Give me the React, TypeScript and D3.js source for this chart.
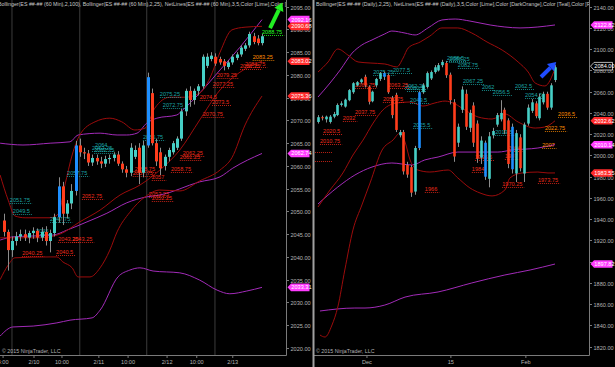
import { useEffect, useRef } from "react";
import * as d3 from "d3";

const W = 615;
const H = 367;
const FONT = "'Liberation Sans', Arial, sans-serif";

// ---- 60 min panel (left) ----
// [open, high, low, close]
const hourBars = [
  [2048, 2049.5, 2044.5, 2045.5],
  [2045.5, 2046, 2037, 2041.5],
  [2041.5, 2044.5, 2040, 2043.5],
  [2043.5, 2045.5, 2042.5, 2044.5],
  [2044.5, 2046, 2043.5, 2045],
  [2045, 2046, 2043.5, 2044.25],
  [2044.25, 2045.75, 2043, 2045.25],
  [2045.25, 2046.5, 2044, 2045.75],
  [2045.75, 2046.25, 2043.25, 2044.25],
  [2044.25, 2046.5, 2043.5, 2045.5],
  [2045.5, 2046.75, 2042.5, 2043.5],
  [2043.5, 2046, 2041, 2045.25],
  [2045.25, 2049.5, 2044.5, 2048.75],
  [2048.75, 2057.5, 2047.5, 2055.5],
  [2055.5, 2056.5, 2047, 2049.5],
  [2049.5, 2052.5, 2048.5, 2051.75],
  [2051.75, 2056, 2050.5, 2054.5],
  [2054.5, 2065.5, 2053.5, 2064.5],
  [2064.5, 2066, 2062, 2063],
  [2063, 2064, 2061.5, 2062.75],
  [2062.75, 2063.5, 2060, 2060.75],
  [2060.75, 2062.5, 2060, 2061.75],
  [2061.75, 2062.5, 2060.25, 2061],
  [2061, 2062, 2059.5, 2060.5],
  [2060.5, 2062.25, 2059.75, 2061.5],
  [2061.5, 2062.5, 2060.5, 2061.75],
  [2061.75, 2063, 2061, 2062.5],
  [2062.5, 2063.25, 2060, 2060.5],
  [2060.5, 2061, 2058.5, 2059.25],
  [2059.25, 2060, 2057.5, 2058.5],
  [2058.5, 2065, 2057.75, 2064],
  [2062, 2064.5, 2061.5, 2063.5],
  [2064, 2065, 2056, 2058.5],
  [2058.5, 2065.5, 2057.5, 2064.5],
  [2064.5, 2080.5, 2064, 2079.5],
  [2076, 2077, 2064.5, 2065],
  [2065, 2066, 2060, 2061],
  [2063, 2064, 2058, 2059.5],
  [2060, 2062.5, 2059, 2062],
  [2062, 2064, 2061, 2063.5],
  [2063, 2065.5, 2062.5, 2065],
  [2064, 2066.5, 2063.5, 2066],
  [2066, 2072.5, 2065.5, 2072],
  [2072, 2077, 2071, 2076.5],
  [2076.5, 2077.5, 2073, 2074.5],
  [2074.5, 2077, 2073.5, 2076.5],
  [2076.5, 2078, 2075.5, 2077.5],
  [2077.5, 2084.5, 2077, 2084],
  [2082, 2084.75, 2081.5, 2084],
  [2083.5, 2085, 2083, 2084.25],
  [2084, 2084.75, 2082, 2082.5],
  [2083.5, 2084, 2082.25, 2082.75],
  [2083, 2083.5, 2081, 2082],
  [2081.75, 2083.25, 2081.25, 2082.75],
  [2082.75, 2084.5, 2082.25, 2084],
  [2083.75, 2085, 2083.25, 2084.5],
  [2084.5, 2086.5, 2084, 2086],
  [2085.75, 2087, 2085.25, 2086.5],
  [2086.5, 2089.5, 2086, 2089],
  [2088.5, 2089.25, 2086.75, 2087.25],
  [2088, 2088.75, 2086.5, 2087],
  [2087, 2089, 2086.5, 2088.5],
];
const hourBlue = [13, 17, 34];

// bands: [bar index, price]
const hourUpper100 = [
  [-0.8, 2065], [4.6, 2064.6], [11, 2065], [15.7, 2065.3], [17.6, 2066.8], [22.8, 2067.2],
  [26.8, 2066.8], [29.1, 2066.8], [31.5, 2067.2], [33.8, 2069.4], [36.2, 2070.5], [40.9, 2071.2],
  [42.3, 2072.3], [46.3, 2076], [51.1, 2081.1], [55.8, 2086.1], [61, 2092.16],
];
const hourMid100 = [
  [-0.8, 2043.7], [2.2, 2044.4], [11.7, 2044.8], [15, 2045.9], [19.7, 2047.7], [24.4, 2049.6],
  [29.1, 2051.9], [33.8, 2053.2], [36.9, 2053.6], [46.3, 2056.5], [51.1, 2057.6], [54.1, 2059.5],
  [61, 2062.74],
];
const hourLower100 = [
  [-0.8, 2022.6], [2.2, 2024.6], [7, 2024.8], [12.6, 2025.5], [15.7, 2026.1], [20.9, 2026.6],
  [22.8, 2028.3], [27, 2035.6], [29.8, 2037.1], [32.2, 2037.6], [35.3, 2036.9], [41.6, 2036.5],
  [46.3, 2034.9], [50.4, 2032.7], [53.4, 2031.9], [57.4, 2032.5], [61, 2033.31],
];
const hourUpper25 = [
  [-0.8, 2058], [1.1, 2052.5], [2.7, 2049], [5.1, 2048.6], [11, 2048.6], [12.9, 2049.4],
  [14.5, 2055.8], [16.2, 2062.4], [18, 2066.8], [21.6, 2069.7], [25.1, 2070.5], [27.9, 2069.7],
  [31, 2067.9], [33.4, 2068.3], [35.7, 2072.7], [39.3, 2075.1], [42.8, 2075.1], [46.3, 2076],
  [48.7, 2079.3], [51.1, 2085], [53.9, 2089.9], [57, 2090.5], [61, 2090.68],
];
const hourMid25 = [
  [-0.8, 2044.2], [8.6, 2044.2], [13.3, 2045], [18, 2047.7], [22.8, 2050.3], [27.5, 2053.6],
  [32.2, 2055.8], [36.9, 2059.1], [41.6, 2063.5], [46.3, 2070.1], [51.1, 2076.7], [55.8, 2080.6],
  [61, 2083.02],
];
const hourLower25 = [
  [-0.8, 2035], [1.1, 2038.2], [2.7, 2039.8], [11, 2040], [12.6, 2040], [14, 2038.9],
  [16.2, 2037.6], [17.6, 2035.6], [20.4, 2035.6], [22.8, 2037.6], [25.1, 2041.5], [26.8, 2045.5],
  [29.8, 2049.8], [33.4, 2053.2], [36.9, 2054.7], [41.6, 2054.5], [46.3, 2056.7], [51.1, 2059.1],
  [53.9, 2061.8], [57, 2069], [61, 2075.36],
];

// net lines: [bar index, price, colour]
const hourNetLines = [
  [61, 2088.75, "lime"], [58.8, 2083.25, "orange"], [57, 2081.75, "red"], [55.8, 2081.25, "red"],
  [50.3, 2079.25, "red"], [49.4, 2077.25, "red"], [36.9, 2075.25, "teal"], [46.3, 2074.5, "red"],
  [49.2, 2073.5, "red"], [37.6, 2072.75, "teal"], [47, 2070.75, "red"], [32.9, 2065.75, "teal"],
  [21.6, 2064, "teal"], [20.9, 2063.25, "teal"], [21.4, 2062.75, "teal"], [42.3, 2062.25, "red"],
  [41.6, 2061.25, "red"], [31, 2058.75, "red"], [30.5, 2057.75, "red"], [39.5, 2058.75, "red"],
  [35, 2057, "red"], [15, 2057.75, "teal"], [18.5, 2052.75, "red"], [34.3, 2053.25, "red"],
  [35, 2052.25, "red"], [1.5, 2051.75, "teal"], [2.2, 2049.5, "teal"], [11, 2047.75, "teal"],
  [7.7, 2045, "teal"], [12.9, 2043.25, "red"], [16.2, 2043.25, "red"], [4.4, 2040.25, "red"],
  [12.4, 2040.5, "red"],
];
const hourPriceTicks = [2020, 2025, 2030, 2035, 2040, 2045, 2050, 2055, 2060, 2065, 2070, 2075, 2080, 2085, 2090, 2095];
const hourMarkers = [
  [2092.16, "magenta"], [2090.68, "red"], [2083.02, "red"], [2075.36, "red"], [2062.74, "magenta"], [2033.31, "magenta"],
];
const hourTimeLabels = [
  [-0.1, "4:00"], [7.2, "2/10"], [13.8, "10:00"], [22.5, "2/11"], [29.4, "10:00"], [38.6, "2/12"], [45.6, "10:00"], [54.1, "2/13"],
];
const hourSessionBreaks = [2, 18, 33.8, 49.9];
const hourArrow = [[62.9, 2090.3], [65.8, 2095.9]];
const hourTitle =
  "Bollinger(ES ##-## (60 Min),2,100), Bollinger(ES ##-## (60 Min),2,25), NetLines(ES ##-## (60 Min),3,5,Color [Lime],Color [DarkOrange],Color [Teal],Color [Red])";

// ---- Daily panel (right) ----
const dayBars = [
  [2031.5, 2038, 2030, 2036],
  [2036, 2037.5, 2033, 2035],
  [2034, 2037.5, 2031, 2036.5],
  [2031.5, 2038, 2030, 2036.5],
  [2036.5, 2041, 2035, 2039],
  [2038, 2049, 2037, 2047.5],
  [2047.5, 2051, 2046, 2049],
  [2046, 2053.5, 2045, 2052.5],
  [2052, 2062.5, 2051, 2061.5],
  [2059.5, 2069, 2058, 2068],
  [2066, 2070, 2065, 2069],
  [2069, 2072.5, 2067.5, 2071.5],
  [2074, 2076, 2064, 2066],
  [2064.5, 2066, 2048, 2050.5],
  [2051, 2061, 2050, 2060],
  [2066, 2073, 2064, 2072],
  [2072, 2078.5, 2070, 2077.5],
  [2074, 2079, 2071, 2077.5],
  [2075.5, 2077, 2058, 2059.5],
  [2054, 2056, 2035, 2038],
  [2057, 2059, 2022, 2024],
  [2019, 2024, 2017, 2022],
  [2022, 2024, 1982, 1985],
  [1991, 1994, 1979, 1982],
  [1989, 1991, 1961, 1965],
  [1966, 2009, 1963, 2007],
  [2007, 2061, 2005, 2059.5],
  [2059.5, 2068, 2058, 2066],
  [2064.5, 2079, 2063, 2077.5],
  [2072.5, 2080, 2071, 2078.5],
  [2078.5, 2085, 2077, 2083],
  [2080, 2087, 2079, 2085],
  [2085, 2090, 2083, 2088],
  [2087, 2089, 2073, 2075.5],
  [2076, 2078, 2048, 2052],
  [2050, 2053, 1994, 1999],
  [2012, 2030, 2008, 2027],
  [2043, 2065, 2040, 2062],
  [2058, 2062, 2024, 2027],
  [2026, 2043, 2022, 2040],
  [2047, 2050, 2008, 2012],
  [2030, 2033, 1993, 1997],
  [1998, 2018, 1992, 2014],
  [2012, 2014, 1977, 1980],
  [1978, 2022, 1970, 2018],
  [2019, 2026, 2016, 2023],
  [2029, 2040, 2027, 2038],
  [2034, 2052, 2032, 2040],
  [2043, 2045, 2020, 2024],
  [2033, 2035, 1988, 1992],
  [2027, 2030, 1983, 1987],
  [1983, 2024, 1975, 2021],
  [2017, 2020, 1985, 1988],
  [1983, 2031, 1975, 2029],
  [2030, 2048, 2028, 2045],
  [2042, 2053, 2040, 2050],
  [2049, 2051, 2035, 2037],
  [2035, 2058, 2033, 2055],
  [2050, 2060, 2048, 2058],
  [2058, 2060, 2043, 2045],
  [2045, 2068, 2043, 2066],
  [2071, 2085, 2069, 2083],
];
const dayBlue = [17, 26, 43, 50];

const dayUpperOuter = [
  [0, 2055], [3.1, 2068.2], [5.7, 2080.4], [8.8, 2096.4], [11.3, 2104], [13.9, 2108.7], [17.2, 2114.4],
  [19, 2117.1], [22.4, 2115.2], [25, 2113.4], [28.3, 2120], [31.9, 2127.5], [35.3, 2128.4], [39.1, 2126.5],
  [44.3, 2122.8], [48.1, 2120.9], [52, 2120], [56.6, 2120.9], [61, 2122.82],
];
const dayMidOuter = [
  [0, 1954.3], [5.1, 1970.3], [9.5, 1981.6], [13.9, 1989.1], [19, 1992.9], [24.2, 1991], [27.5, 1995.8],
  [30.9, 1998.5], [36, 2003.2], [41.2, 2003.2], [46.3, 2003.2], [49.9, 2005.1], [56.6, 2007], [61, 2010.14],
];
const dayLowerOuter = [
  [0.5, 1853.6], [9.5, 1856.4], [12.1, 1856.4], [17.2, 1859.2], [22.4, 1866.7], [30.9, 1871.5],
  [39.6, 1880], [48.1, 1887.5], [54.6, 1892.2], [61, 1897.82],
];
const dayUpper25 = [
  [0, 2078.5], [2.6, 2088], [5.1, 2100.2], [7.7, 2094.5], [10.3, 2088], [13.4, 2087], [17.2, 2086.1],
  [20.3, 2083.3], [21.9, 2091.7], [23.2, 2101.1], [26.3, 2106.8], [28.8, 2112.4], [31.9, 2120], [36, 2120],
  [39.6, 2115.2], [43.5, 2106.8], [47.4, 2099.2], [51.5, 2088], [54.1, 2078.5], [55.9, 2068.2],
  [58.4, 2065.4], [61, 2081.69],
];
const dayMid25 = [
  [0, 1951.5], [3.1, 1967.5], [6.4, 1983.5], [9, 2000.4], [11.6, 2014.5], [14.2, 2030.5], [16.7, 2042.8],
  [20.3, 2049.4], [23.7, 2050.3], [27, 2046.5], [30.1, 2049.4], [32.7, 2051.2], [35.3, 2048.4],
  [37.8, 2042.8], [41.2, 2036.2], [44.8, 2034.3], [48.1, 2039], [51.5, 2031.5], [55.9, 2025.8],
  [58.4, 2026.8], [61, 2032.62],
];
const dayLower25 = [
  [0.5, 1831], [1.8, 1829.1], [3.6, 1840.4], [5.1, 1857.4], [6.9, 1892.2], [9, 1929.9], [11.3, 1953.4],
  [13.4, 1974.1], [16.5, 2005.1], [19.3, 2014.5], [21.1, 2021.1], [22.4, 2012.7], [23.7, 1995.7],
  [25.7, 1986.3], [28.8, 1984.4], [33.5, 1986.3], [36, 1978.8], [39.1, 1969.4], [41.7, 1964.7],
  [44.8, 1961.9], [48.1, 1967.5], [49.4, 1978.8], [52.5, 1983.5], [56.6, 1984.4], [59.2, 1983.5],
  [61, 1983.55],
];
const dayNetLines = [
  [33.2, 2088.5, "teal"], [33.8, 2088.25, "teal"], [36, 2082.75, "teal"], [14.2, 2075.25, "teal"],
  [19.3, 2077.5, "teal"], [37.3, 2067.25, "teal"], [42.2, 2062, "teal"], [50.7, 2062.5, "teal"],
  [22.4, 2062.25, "teal"], [22.9, 2060.5, "teal"], [53.3, 2054.5, "teal"], [45, 2056.5, "teal"],
  [9.5, 2063.75, "red"], [18, 2063.25, "red"], [16.7, 2050.75, "red"], [9.5, 2037.75, "red"],
  [61.8, 2036.5, "orange"], [6.4, 2032, "red"], [1.3, 2020.5, "red"], [0.5, 2010.75, "red"],
  [23.7, 2049.5, "teal"], [24.5, 2025.5, "teal"], [27.5, 1966, "red"], [45.6, 2019.5, "teal"],
  [58.4, 2022.75, "orange"], [57.7, 2007, "orange"], [48.9, 2004, "red"], [48.1, 1997, "red"],
  [40.4, 1995.5, "red"], [39.6, 1984, "red"], [47.4, 1970.25, "red"], [56.6, 1973.75, "red"],
  [-1.3, 2003, "red", ""], [-1.3, 1994.5, "red", ""],
];
const dayPriceTicks = [1820, 1840, 1860, 1880, 1900, 1920, 1940, 1960, 1980, 2000, 2020, 2040, 2060, 2080, 2100, 2120, 2140];
const dayMarkers = [
  [2122.82, "magenta"], [2084.0, "price"], [2032.62, "red"], [2010.14, "magenta"], [1983.55, "red"], [1897.82, "magenta"],
];
const dayTimeLabels = [[12.6, "Dec"], [34.2, "15"], [53.5, "Feb"]];
const dayArrow = [[57.4, 2073.8], [61.3, 2088]];
const dayTitle =
  "Bollinger(ES ##-## (Daily),2,25), NetLines(ES ##-## (Daily),3,5,Color [Lime],Color [DarkOrange],Color [Teal],Color [Red])";

const UP = "#46cfc6";
const DOWN = "#ff3d1c";
const BLUE = "#1e8fff";
const MAGENTA_LINE = "#a22bb8";
const RED_LINE = "#9c0c0c";
const NET_COLORS = { lime: "#20ff20", orange: "#ff8c00", teal: "#1aa3a3", red: "#ee2a1a" };
const MARKER_COLORS = { magenta: "#ff3cff", red: "#ff2b2b", price: "#000" };
const AXIS = "#7a7a7a";
const TEXT = "#b4b4b4";

const drawPanel = (svg, p) => {
  const x = d3.scaleLinear().domain([0, p.bars.length - 1]).range(p.barRange);
  const y = d3.scaleLinear().domain(p.priceDomain).range(p.priceRange);
  const bottom = 355;

  svg
    .append("clipPath")
    .attr("id", p.id)
    .append("rect")
    .attr("x", p.left)
    .attr("y", 0)
    .attr("width", p.axisX - p.left)
    .attr("height", bottom);
  const plot = svg.append("g").attr("clip-path", `url(#${p.id})`);

  plot
    .selectAll(".grid")
    .data(p.grid)
    .enter()
    .append("line")
    .attr("x1", (d) => x(d))
    .attr("x2", (d) => x(d))
    .attr("y1", 0)
    .attr("y2", bottom)
    .attr("stroke", "#3c3c3c")
    .attr("stroke-width", 1);

  const line = d3
    .line()
    .x((d) => x(d[0]))
    .y((d) => y(d[1]))
    .curve(d3.curveMonotoneX);
  p.bands.forEach((b) => {
    plot
      .append("path")
      .attr("d", line(b.points))
      .attr("fill", "none")
      .attr("stroke", b.color)
      .attr("stroke-width", 1);
  });

  // net lines with their price text
  p.net.forEach((n) => {
    const color = NET_COLORS[n[2]];
    const label = n.length > 3 ? n[3] : String(n[1]);
    const x0 = x(n[0]);
    const y0 = Math.round(y(n[1])) + 0.5;
    let len = 20;
    if (label) {
      const t = plot
        .append("text")
        .attr("x", x0)
        .attr("y", y0 - 1.2)
        .attr("fill", color)
        .attr("font-family", FONT)
        .attr("font-size", 5.6)
        .text(label);
      len = t.node().getComputedTextLength() + 2;
    }
    plot
      .append("line")
      .attr("x1", x0)
      .attr("x2", x0 + len)
      .attr("y1", y0)
      .attr("y2", y0)
      .attr("stroke", color)
      .attr("stroke-width", 0.8)
      .attr("stroke-dasharray", "1,1");
  });

  // candles
  const g = plot.append("g");
  p.bars.forEach((b, i) => {
    const [o, h, l, c] = b;
    const cx = Math.round(x(i)) + 0.5;
    const color = p.blue.includes(i) ? BLUE : c >= o ? UP : DOWN;
    g.append("line")
      .attr("x1", cx)
      .attr("x2", cx)
      .attr("y1", y(h))
      .attr("y2", y(l))
      .attr("stroke", "#8c8c8c")
      .attr("stroke-width", 1);
    const top = y(Math.max(o, c));
    g.append("rect")
      .attr("x", cx - p.body / 2)
      .attr("y", top)
      .attr("width", p.body)
      .attr("height", Math.max(1, y(Math.min(o, c)) - top))
      .attr("fill", color);
  });

  // hand drawn arrow
  const [a0, a1] = p.arrow;
  const sx = x(a0[0]);
  const sy = y(a0[1]);
  const ex = x(a1[0]);
  const ey = y(a1[1]);
  const ang = Math.atan2(ey - sy, ex - sx);
  const headLen = 8;
  const bx = ex - headLen * Math.cos(ang);
  const by = ey - headLen * Math.sin(ang);
  const nx = -Math.sin(ang);
  const ny = Math.cos(ang);
  svg
    .append("line")
    .attr("x1", sx)
    .attr("y1", sy)
    .attr("x2", bx)
    .attr("y2", by)
    .attr("stroke", p.arrowColor)
    .attr("stroke-width", 4);
  svg
    .append("path")
    .attr(
      "d",
      `M${ex},${ey}L${bx + nx * 5},${by + ny * 5}L${bx - nx * 5},${by - ny * 5}Z`
    )
    .attr("fill", p.arrowColor);

  // title
  plot
    .append("text")
    .attr("x", p.left + p.titleX)
    .attr("y", 6)
    .attr("fill", "#c8c8c8")
    .attr("font-family", FONT)
    .attr("font-size", 5.3)
    .text(p.title);

  // frame
  svg
    .append("path")
    .attr("d", `M${p.axisX + 0.5},0V${bottom + 0.5}H${p.left}`)
    .attr("fill", "none")
    .attr("stroke", AXIS)
    .attr("stroke-width", 1);

  // price axis
  const ticks = svg.append("g");
  p.priceTicks.forEach((v) => {
    const ty = Math.round(y(v)) + 0.5;
    ticks
      .append("line")
      .attr("x1", p.axisX)
      .attr("x2", p.axisX + 3)
      .attr("y1", ty)
      .attr("y2", ty)
      .attr("stroke", AXIS);
    ticks
      .append("text")
      .attr("x", p.axisX + 4.5)
      .attr("y", ty + 2)
      .attr("fill", TEXT)
      .attr("font-family", FONT)
      .attr("font-size", 5.6)
      .text(d3.format(".2f")(v));
  });

  // last value markers
  p.markers.forEach((m) => {
    const my = y(m[0]);
    const ax = p.axisX + 1.5;
    svg
      .append("path")
      .attr(
        "d",
        `M${ax},${my}L${ax + 3.5},${my - 3.8}H${ax + 22}V${my + 3.8}H${ax + 3.5}Z`
      )
      .attr("fill", MARKER_COLORS[m[1]])
      .attr("stroke", m[1] === "price" ? "#e0e0e0" : "none")
      .attr("stroke-width", 0.8);
    svg
      .append("text")
      .attr("x", ax + 3.8)
      .attr("y", my + 2)
      .attr("fill", "#fff")
      .attr("font-family", FONT)
      .attr("font-size", 5.6)
      .text(d3.format(".2f")(m[0]));
  });

  // time axis
  p.timeLabels.forEach((t) => {
    const tx = x(t[0]);
    svg
      .append("line")
      .attr("x1", tx)
      .attr("x2", tx)
      .attr("y1", bottom)
      .attr("y2", bottom + 3)
      .attr("stroke", AXIS);
    svg
      .append("text")
      .attr("x", tx)
      .attr("y", 364)
      .attr("text-anchor", "middle")
      .attr("fill", TEXT)
      .attr("font-family", FONT)
      .attr("font-size", 5.6)
      .text(t[1]);
  });

  svg
    .append("text")
    .attr("x", p.left + 2)
    .attr("y", 353)
    .attr("fill", TEXT)
    .attr("font-family", FONT)
    .attr("font-size", 5.3)
    .text("\u00a9 2015 NinjaTrader, LLC");
};

const App = () => {
  const svgRef = useRef(null);

  useEffect(() => {
    const svg = d3.select(svgRef.current);
    svg.selectAll("*").remove();
    svg.append("rect").attr("width", W).attr("height", H).attr("fill", "#000");

    drawPanel(svg, {
      id: "clip-hour",
      left: 0,
      axisX: 286,
      titleX: -2,
      barRange: [3.5, 262],
      priceDomain: [2020, 2095],
      priceRange: [347.9, 6.7],
      body: 3,
      bars: hourBars,
      blue: hourBlue,
      grid: hourSessionBreaks,
      bands: [
        { points: hourUpper100, color: MAGENTA_LINE },
        { points: hourMid100, color: MAGENTA_LINE },
        { points: hourLower100, color: MAGENTA_LINE },
        { points: hourUpper25, color: RED_LINE },
        { points: hourMid25, color: RED_LINE },
        { points: hourLower25, color: RED_LINE },
      ],
      net: hourNetLines,
      priceTicks: hourPriceTicks,
      markers: hourMarkers,
      timeLabels: hourTimeLabels,
      arrow: hourArrow,
      arrowColor: "#22ee22",
      title: hourTitle,
    });

    drawPanel(svg, {
      id: "clip-day",
      left: 314,
      axisX: 589,
      titleX: 2,
      barRange: [318, 555],
      priceDomain: [1820, 2140],
      priceRange: [346.7, 6.7],
      body: 2.6,
      bars: dayBars,
      blue: dayBlue,
      grid: [],
      bands: [
        { points: dayUpperOuter, color: MAGENTA_LINE },
        { points: dayMidOuter, color: MAGENTA_LINE },
        { points: dayLowerOuter, color: MAGENTA_LINE },
        { points: dayUpper25, color: RED_LINE },
        { points: dayMid25, color: RED_LINE },
        { points: dayLower25, color: RED_LINE },
      ],
      net: dayNetLines,
      priceTicks: dayPriceTicks,
      markers: dayMarkers,
      timeLabels: dayTimeLabels,
      arrow: dayArrow,
      arrowColor: "#1f4dff",
      title: dayTitle,
    });

    // panel divider
    svg
      .append("rect")
      .attr("x", 312.5)
      .attr("y", 0)
      .attr("width", 2)
      .attr("height", H)
      .attr("fill", "#a0a0a0");
  }, []);

  return (
    <svg
      ref={svgRef}
      width={W}
      height={H}
      style={{ position: "absolute", left: 0, top: 0, display: "block" }}
    ></svg>
  );
};

export default App;
